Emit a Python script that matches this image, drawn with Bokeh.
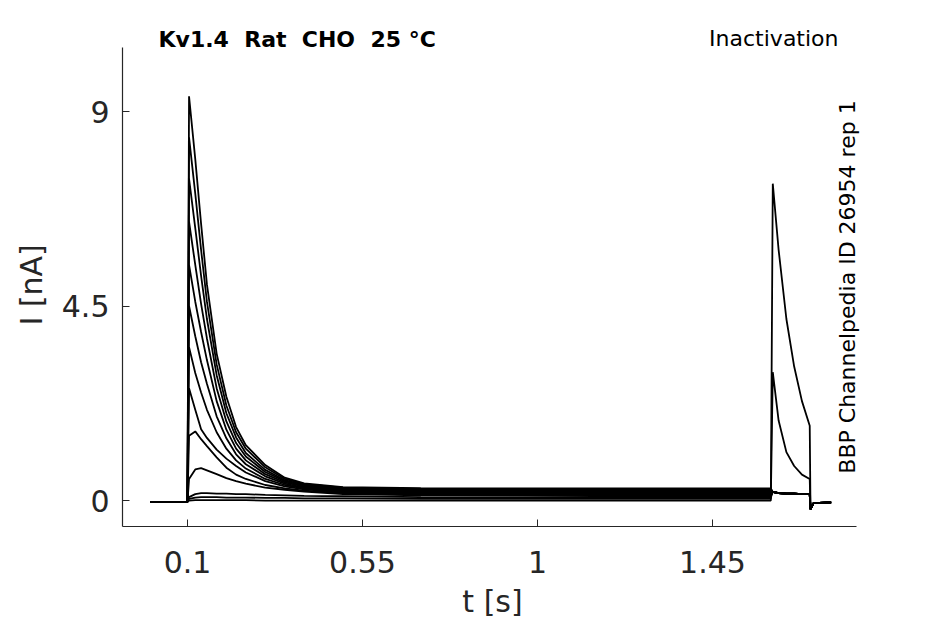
import math
from bokeh.plotting import figure
from bokeh.models import Range1d, FixedTicker, Label, CustomJSTickFormatter, Title
from bokeh.embed import file_html
from bokeh.resources import INLINE

# ---- data ----
T = [0.005, 0.1, 0.104, 0.12, 0.135, 0.15, 0.175, 0.2, 0.225, 0.25, 0.3, 0.35,
     0.4, 0.5, 0.7, 1.0, 1.3, 1.6, 1.605, 1.62, 1.64, 1.66, 1.68, 1.7, 1.702,
     1.71, 1.755]

# prepulse part (t = 0.005 ... 1.6), one list per sweep
PRE_A = [-0.03, -0.03, 9.35, 7.9, 6.4, 5.0, 3.4, 2.4, 1.7, 1.28, 0.82, 0.53, 0.4, 0.31, 0.29, 0.28, 0.28, 0.28]
PRE_B = [-0.03, -0.03, 8.4, 7.1, 5.8, 4.6, 3.15, 2.2, 1.58, 1.2, 0.77, 0.5, 0.38, 0.3, 0.27, 0.26, 0.26, 0.26]
PRE_C = [-0.03, -0.03, 7.45, 6.3, 5.2, 4.2, 2.9, 2.02, 1.46, 1.1, 0.71, 0.47, 0.36, 0.28, 0.25, 0.24, 0.24, 0.24]
PRE_D = [-0.03, -0.03, 6.45, 5.45, 4.55, 3.75, 2.6, 1.83, 1.33, 1.02, 0.66, 0.45, 0.34, 0.27, 0.23, 0.22, 0.22, 0.22]
PRE_E = [-0.03, -0.03, 5.45, 4.6, 3.9, 3.25, 2.3, 1.64, 1.2, 0.93, 0.61, 0.42, 0.32, 0.25, 0.21, 0.2, 0.2, 0.2]
PRE_F = [-0.03, -0.03, 4.5, 3.8, 3.2, 2.7, 1.95, 1.44, 1.07, 0.84, 0.56, 0.39, 0.3, 0.23, 0.19, 0.18, 0.18, 0.18]
PRE_G = [-0.03, -0.03, 3.55, 2.95, 2.5, 2.1, 1.58, 1.2, 0.93, 0.74, 0.5, 0.36, 0.28, 0.21, 0.17, 0.16, 0.16, 0.16]
PRE_H = [-0.03, -0.03, 2.6, 2.1, 1.65, 1.45, 1.18, 0.97, 0.8, 0.65, 0.45, 0.33, 0.26, 0.19, 0.16, 0.15, 0.14, 0.14]
PRE_I = [-0.03, -0.03, 1.5, 1.6, 1.42, 1.26, 1.0, 0.76, 0.6, 0.5, 0.36, 0.28, 0.23, 0.17, 0.14, 0.13, 0.12, 0.12]
PRE_J = [-0.03, -0.03, 0.5, 0.72, 0.75, 0.7, 0.61, 0.52, 0.45, 0.39, 0.3, 0.25, 0.21, 0.15, 0.12, 0.11, 0.1, 0.1]
PRE_K = [-0.03, -0.03, 0.08, 0.15, 0.17, 0.17, 0.16, 0.16, 0.15, 0.15, 0.13, 0.12, 0.11, 0.1, 0.08, 0.07, 0.07, 0.07]
PRE_L = [-0.03, -0.03, 0.04, 0.07, 0.08, 0.08, 0.08, 0.07, 0.07, 0.07, 0.06, 0.06, 0.05, 0.05, 0.04, 0.04, 0.04, 0.04]
PRE_M = [-0.03, -0.03, 0.0, 0.01, 0.01, 0.01, 0.01, 0.01, 0.01, 0.01, 0.0, 0.0, 0.0, 0.0, 0.0, 0.0, 0.0, 0.0]

# test pulse part (t = 1.605 ... 1.755)
TEST_INACT = [0.2, 0.17, 0.16, 0.16, 0.15, 0.15, -0.2, -0.06, -0.04]
TEST_L = [2.97, 1.85, 1.12, 0.8, 0.6, 0.5, -0.2, -0.06, -0.04]
TEST_M = [7.33, 5.8, 4.2, 3.1, 2.3, 1.73, -0.2, -0.06, -0.04]

SWEEPS = [
    PRE_A + TEST_INACT, PRE_B + TEST_INACT, PRE_C + TEST_INACT, PRE_D + TEST_INACT,
    PRE_E + TEST_INACT, PRE_F + TEST_INACT, PRE_G + TEST_INACT, PRE_H + TEST_INACT,
    PRE_I + TEST_INACT, PRE_J + TEST_INACT, PRE_K + TEST_INACT,
    PRE_L + TEST_L, PRE_M + TEST_M,
]

XTICKS = [0.1, 0.55, 1, 1.45]
YTICKS = [0, 4.5, 9]
X_AXIS_SPAN = (-0.0671, 1.8203)
Y_AXIS_SPAN = (-0.60, 10.48)

NB = "\u00a0"
TITLE = "Kv1.4" + NB + " Rat" + NB + " CHO" + NB + " 25 °C"
PROTOCOL = "Inactivation"
SOURCE = "BBP Channelpedia ID 26954 rep 1"
XLABEL = "t [s]"
YLABEL = "I [nA]"

# ---- figure ----
FONT = "DejaVu Sans"
DARK = "#262626"

p = figure(width=929, height=624, output_backend="svg", toolbar_location=None,
           x_range=Range1d(X_AXIS_SPAN[0], 1.8357), y_range=Range1d(Y_AXIS_SPAN[0], 10.92),
           min_border_left=122, min_border_right=67, min_border_top=28,
           min_border_bottom=98)
p.outline_line_color = None
p.grid.visible = False
p.background_fill_color = "white"
p.border_fill_color = "white"

for ys in SWEEPS:
    p.line(T, ys, line_color="black", line_width=1.8)

fmt = CustomJSTickFormatter(code="return String(Math.round(tick*100)/100);")
for ax, ticks, span in ((p.xaxis[0], XTICKS, X_AXIS_SPAN), (p.yaxis[0], YTICKS, Y_AXIS_SPAN)):
    ax.ticker = FixedTicker(ticks=ticks)
    ax.formatter = fmt
    ax.bounds = span
    ax.minor_tick_line_color = None
    ax.major_tick_in = 7
    ax.major_tick_out = 0
    ax.major_tick_line_color = DARK
    ax.axis_line_color = DARK
    ax.axis_line_width = 1.2
    ax.major_label_text_font = FONT
    ax.major_label_text_font_size = "30px"
    ax.major_label_text_color = DARK
    ax.axis_label_text_font = FONT
    ax.axis_label_text_font_size = "30px"
    ax.axis_label_text_font_style = "normal"
    ax.axis_label_text_color = DARK

p.xaxis.axis_label = XLABEL
p.xaxis.major_label_standoff = 24
p.xaxis.axis_label_standoff = 8
p.yaxis.major_label_standoff = 13

p.add_layout(Title(text=YLABEL, align="left", offset=201, standoff=18,
                   vertical_align="middle",
                   text_font=FONT, text_font_size="30px", text_font_style="normal",
                   text_color=DARK), "left")

p.add_layout(Label(x=0.0255, y=10.666, text=TITLE, text_font=FONT,
                   text_font_size="22px", text_font_style="bold",
                   text_color="black", text_align="left", text_baseline="middle"))
p.add_layout(Label(x=1.774, y=10.68, text=PROTOCOL, text_font=FONT,
                   text_font_size="22px", text_color="black",
                   text_align="right", text_baseline="middle"))
p.add_layout(Label(x=1.797, y=4.94, text=SOURCE, text_font=FONT,
                   text_font_size="22px", text_color="black", angle=math.pi / 2,
                   text_align="center", text_baseline="alphabetic"))

open("out.html", "w").write(file_html(p, INLINE))
